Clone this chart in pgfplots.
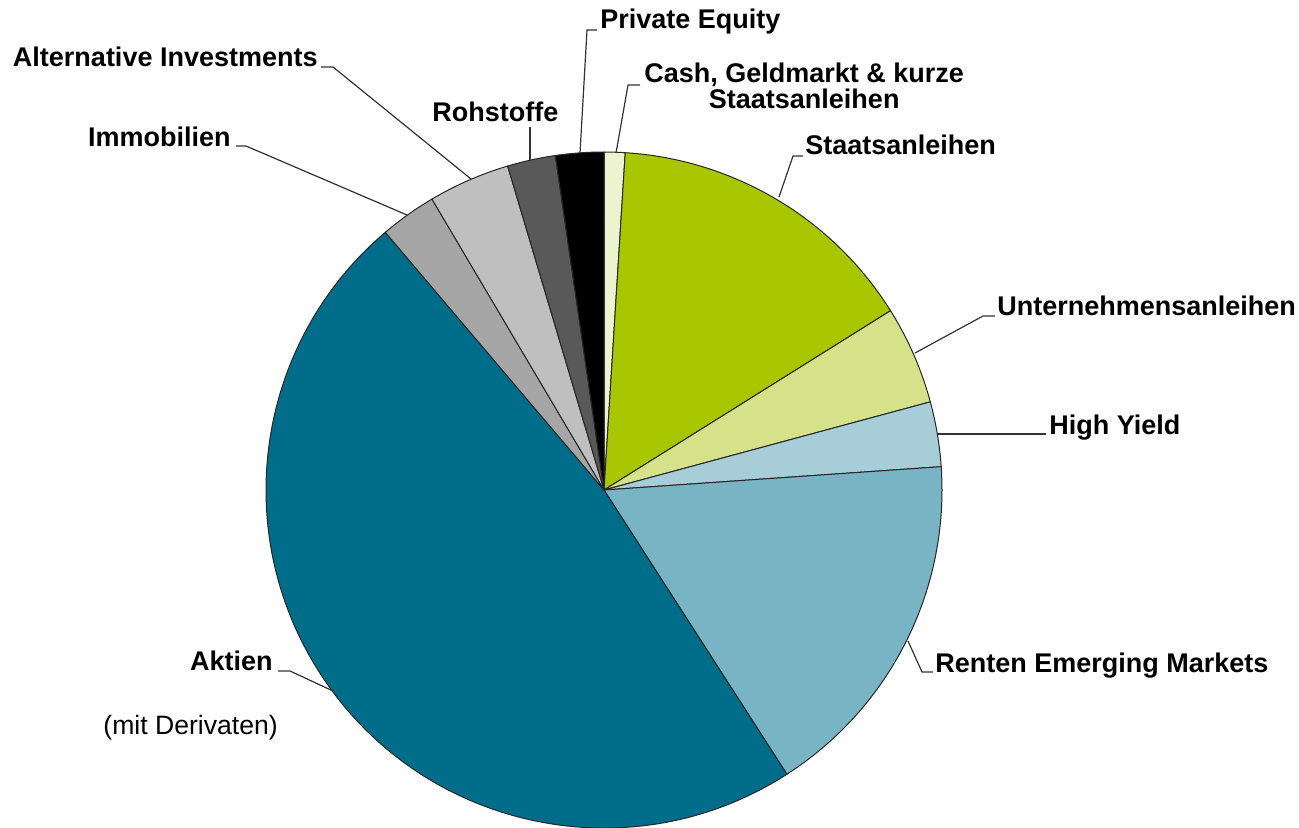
\documentclass[border=0pt]{standalone}
\usepackage{pgfplots}
\pgfplotsset{compat=1.18}
\usepackage{pgfplotstable}
\usepackage{fontspec}
\setmainfont{Liberation Sans}
\definecolor{cashc}{HTML}{EEF3CF}
\definecolor{staatc}{HTML}{A9C700}
\definecolor{untc}{HTML}{D5E28A}
\definecolor{hyc}{HTML}{A7CDD8}
\definecolor{emc}{HTML}{79B4C5}
\definecolor{aktc}{HTML}{006E8B}
\definecolor{immc}{HTML}{A6A6A6}
\definecolor{altc}{HTML}{BFBFBF}
\definecolor{rohc}{HTML}{595959}
\definecolor{pec}{HTML}{000000}
% share in percent, clockwise from 12 o'clock
\pgfplotstableread{
value color
1.0  cashc
15.1 staatc
4.7  untc
3.1  hyc
17.0 emc
47.9 aktc
2.7  immc
3.9  altc
2.3  rohc
2.3  pec
}\piedata
\tikzset{lbl/.style={font=\bfseries\fontsize{13.5}{13}\selectfont, inner sep=0pt}}
\begin{document}
\begin{tikzpicture}
\begin{axis}[
  x=0.5pt, y=0.5pt,
  xmin=0, xmax=1299, ymin=0, ymax=828,
  y dir=reverse,
  hide axis, clip=false,
]
\pgfplotstablegetrowsof{\piedata}
\pgfmathtruncatemacro\nrows{\pgfplotsretval-1}
\gdef\cum{0}
\pgfplotsforeachungrouped \i in {0,...,\nrows}{%
  \pgfplotstablegetelem{\i}{value}\of\piedata \let\v\pgfplotsretval
  \pgfplotstablegetelem{\i}{color}\of\piedata \let\c\pgfplotsretval
  \pgfmathsetmacro\ta{3.6*\cum}%
  \pgfmathsetmacro\tb{3.6*(\cum+\v)}%
  \pgfmathsetmacro\sx{604+338*sin(\ta)}%
  \pgfmathsetmacro\sy{490-338*cos(\ta)}%
  \pgfmathsetmacro\aa{90-\ta}%
  \pgfmathsetmacro\bb{90-\tb}%
  \edef\tmp{\noexpand\filldraw[fill=\c,draw=black!85,line width=0.5pt,line join=round] (axis cs:604,490) -- (axis cs:\sx,\sy) arc[start angle=\aa,end angle=\bb,radius=169pt] -- cycle;}%
  \tmp
  \pgfmathsetmacro\newcum{\cum+\v}%
  \xdef\cum{\newcum}%
}
% leader lines
\draw[black!80,line width=0.6pt] (axis cs:580,153) -- (axis cs:587,30) -- (axis cs:597,30);
\draw[black!80,line width=0.6pt] (axis cs:616,153) -- (axis cs:628,85) -- (axis cs:640,85);
\draw[black!80,line width=0.6pt] (axis cs:779,197) -- (axis cs:793,156) -- (axis cs:803,156);
\draw[black!80,line width=0.6pt] (axis cs:915,353) -- (axis cs:983,316) -- (axis cs:995,316);
\draw[black!80,line width=0.6pt] (axis cs:938,434) -- (axis cs:1046,434);
\draw[black!80,line width=0.6pt] (axis cs:908,641) -- (axis cs:922,672) -- (axis cs:933,672);
\draw[black!80,line width=0.6pt] (axis cs:333,691) -- (axis cs:290,671) -- (axis cs:278,671);
\draw[black!80,line width=0.6pt] (axis cs:407,215) -- (axis cs:246,146) -- (axis cs:236,146);
\draw[black!80,line width=0.6pt] (axis cs:471,179) -- (axis cs:333,67) -- (axis cs:321,67);
\draw[black!80,line width=0.6pt] (axis cs:530,160) -- (axis cs:530,127);
% labels
\node[lbl, anchor=base west] at (axis cs:600,29) {Private Equity};
\node[lbl, anchor=base west, align=center] at (axis cs:644,109) {Cash, Geldmarkt \& kurze\\Staatsanleihen};
\node[lbl, anchor=base west] at (axis cs:805,155) {Staatsanleihen};
\node[lbl, anchor=base west] at (axis cs:997,315) {Unternehmensanleihen};
\node[lbl, anchor=base west] at (axis cs:1049,434) {High Yield};
\node[lbl, anchor=base west] at (axis cs:935,672) {Renten Emerging Markets};
\node[lbl, anchor=base east] at (axis cs:273,670) {Aktien};
\node[inner sep=0pt, anchor=base west, font=\fontsize{13.3}{13}\selectfont] at (axis cs:103,734) {(mit Derivaten)};
\node[lbl, anchor=base east] at (axis cs:231,147) {Immobilien};
\node[lbl, anchor=base east] at (axis cs:318,67) {Alternative Investments};
\node[lbl, anchor=base west] at (axis cs:432,122) {Rohstoffe};
\end{axis}
\pgfresetboundingbox
\useasboundingbox (current axis.south west) rectangle (current axis.north east);
\end{tikzpicture}
\end{document}
